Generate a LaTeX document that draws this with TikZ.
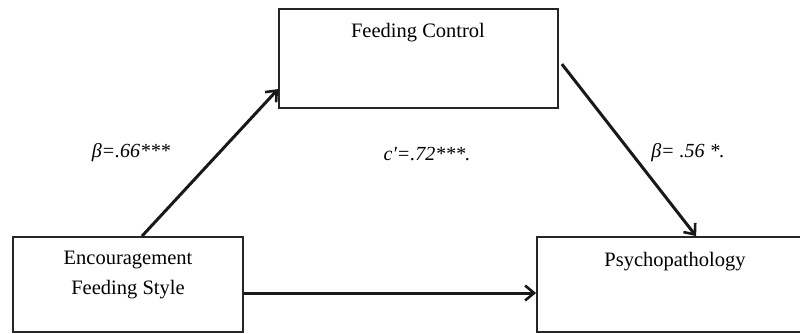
\documentclass[tikz,border=0pt]{standalone}
\usepackage{fontspec}
\setmainfont{Liberation Serif}
\usetikzlibrary{arrows.meta}
\begin{document}
\begin{tikzpicture}[x=1pt,y=-1pt,
  box/.style={draw=black!85, line width=1.8pt, rectangle, inner sep=0pt},
  boxtext/.style={font=\fontsize{20.5}{30}\selectfont, align=center, inner sep=0pt},
  coef/.style={font=\fontsize{20}{24}\selectfont\itshape, inner sep=0pt},
  path/.style={line width=3pt, black!90, -{Straight Barb[length=9pt,width=15pt,line width=2.6pt]}}
]
\useasboundingbox (0,0) rectangle (800,333);
\begin{scope}
\clip (0,0) rectangle (800,333);
% variable boxes
\node[box, minimum width=279pt, minimum height=99pt] (fc) at (418.5,58.5) {};
\node[box, minimum width=230pt, minimum height=95pt] (ef) at (128,284.5) {};
\node[box, minimum width=276pt, minimum height=95pt] (ps) at (675,284.5) {};
\end{scope}
% box labels
\node[boxtext] (fct) at (418,33) {Feeding Control};
\node[boxtext] (eft) at (128,275) {Encouragement\\Feeding Style};
\node[boxtext] (pst) at (675,262) {Psychopathology};
% arrow end points on the box borders
\coordinate (aS) at ([xshift=14pt]ef.north);
\coordinate (aE) at ([yshift=-81pt]fc.north west);
\coordinate (bS) at ([xshift=3pt,yshift=-56pt]fc.north east);
\coordinate (bE) at ([xshift=160pt]ps.north west);
\coordinate (cS) at ([yshift=-8.5pt]ef.east);
\coordinate (cE) at ([yshift=-8.5pt]ps.west);
% paths
\draw[path] (aS) -- (aE);
\draw[path] (bS) -- (bE);
\draw[path] (cS) -- (cE);
% path coefficients
\node[coef] (ca) at (131,153) {β=.66***};
\node[coef] (cb) at (688,153) {β= .56 *.};
\node[coef] (cc) at (427,154) {c′=.72***.};
\end{tikzpicture}
\end{document}
